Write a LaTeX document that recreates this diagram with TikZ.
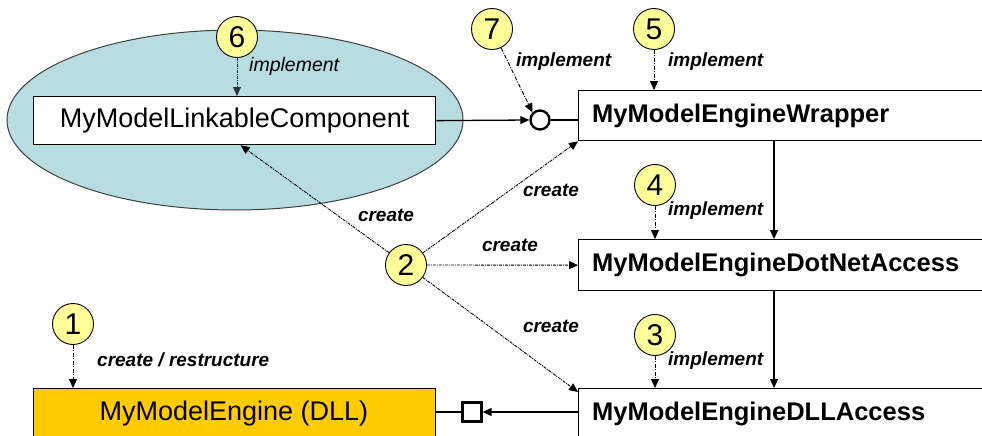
\documentclass[tikz,border=0pt]{standalone}
\usepackage{fontspec}
\setmainfont{Liberation Sans}
\usetikzlibrary{arrows.meta,calc}
\definecolor{teal1}{HTML}{B8DDE1}
\definecolor{numfill}{HTML}{FFFF99}
\definecolor{dllfill}{HTML}{FFCC00}
\tikzset{
  boxn/.style={draw=black, line width=1.3pt, fill=white, inner sep=0pt},
  boxtxt/.style={font=\fontsize{27}{30}\selectfont, inner sep=0pt},
  rtxt/.style={font=\fontsize{25.5}{30}\selectfont\bfseries, inner sep=0pt, anchor=west},
  num/.style={circle, draw=black, line width=0.9pt, fill=numfill, minimum size=41pt, inner sep=0pt, font=\fontsize{30}{32}\selectfont},
  lbl/.style={font=\fontsize{19}{22}\selectfont\bfseries\itshape, inner sep=0pt},
  lblr/.style={font=\fontsize{19.5}{22}\selectfont\itshape, inner sep=0pt},
  tip/.style={-{Triangle[length=9pt,width=8pt]}},
  ddot/.style={tip, line width=0.9pt, dash pattern=on 4pt off 1.5pt on 1pt off 1.5pt},
  dfine/.style={tip, line width=0.9pt, dash pattern=on 3pt off 1pt on 1pt off 1pt},
  solidarr/.style={tip, line width=1.3pt},
}
\begin{document}
\begin{tikzpicture}[x=1pt,y=-1pt]
\useasboundingbox (0,0) rectangle (982,436);
% ellipse
\path[fill=teal1, draw=black!75, line width=1pt] (235,120) ellipse [x radius=228, y radius=90];
% boxes
\node[boxn, minimum width=402pt, minimum height=48pt, anchor=north west] (link) at (33,96) {};
\node[boxtxt] at (link.center) {MyModelLinkableComponent};
\node[boxn, minimum width=430pt, minimum height=50pt, anchor=north west] (wrap) at (578,90) {};
\node[rtxt] at ([xshift=14pt]wrap.west) {MyModelEngineWrapper};
\node[boxn, minimum width=430pt, minimum height=51pt, anchor=north west] (dot) at (578,239) {};
\node[rtxt] at ([xshift=14pt]dot.west) {MyModelEngineDotNetAccess};
\node[boxn, minimum width=430pt, minimum height=60pt, anchor=north west] (acc) at (578,388) {};
\node[rtxt, anchor=west] at (592,414) {MyModelEngineDLLAccess};
\node[boxn, fill=dllfill, minimum width=402pt, minimum height=60pt, anchor=north west] (eng) at (33,388) {};
\node[boxtxt] at (234,414) {MyModelEngine (DLL)};
% interfaces
\node[circle, draw=black, line width=2.4pt, fill=white, minimum size=19pt, inner sep=0pt] (lol) at (540,120) {};
\node[rectangle, draw=black, line width=2.4pt, fill=white, minimum size=19pt, inner sep=0pt] (sq) at (472,412) {};
\draw[line width=2.6pt] (lol.east) -- (wrap.west |- lol);
\draw[line width=2.6pt] (sq.west) -- (eng.east |- sq);
\draw[solidarr] (link.east) -- (lol.west);
\draw[solidarr] (acc.west |- sq) -- (sq.east);
% vertical connectors
\coordinate (vx) at (774,0);
\draw[solidarr] (wrap.south -| vx) -- (dot.north -| vx);
\draw[solidarr] (dot.south -| vx) -- (acc.north -| vx);
% number circles
\node[num] (n6) at (237,37) {6};
\node[num] (n7) at (492,29) {7};
\node[num] (n5) at (654,29) {5};
\node[num] (n4) at (655,185) {4};
\node[num] (n3) at (655,335) {3};
\node[num] (n2) at (406,265) {2};
\node[num] (n1) at (73,324) {1};
% number arrows
\draw[dfine, draw=black!80] (n6.south) -- (link.north -| n6);
\draw[ddot] (n7) -- (lol.north west);
\draw[ddot] (n5.south) -- (wrap.north -| n5);
\draw[ddot] (n4.south) -- (dot.north -| n4);
\draw[ddot] (n3.south) -- (acc.north -| n3);
\draw[ddot] (n1.south) -- (eng.north -| n1);
\draw[dfine] (n2) -- ([xshift=6pt]link.south);
\draw[dfine] (n2) -- (wrap.south west);
\draw[dfine] (n2.east) -- (dot.west);
\draw[dfine] (n2) -- ([yshift=-4pt]acc.north west);
% labels
\node[lblr, anchor=west] at (249,66) {implement};
\node[lbl, anchor=west] at (516,62) {implement};
\node[lbl, anchor=west] at (668,62) {implement};
\node[lbl] at (551,190) {create};
\node[lbl, anchor=west] at (668,211) {implement};
\node[lbl] at (386,215) {create};
\node[lbl] at (510,245) {create};
\node[lbl] at (551,326) {create};
\node[lbl, anchor=west] at (668,361) {implement};
\node[lbl, anchor=west] at (97,360) {create / restructure};
\end{tikzpicture}
\end{document}
